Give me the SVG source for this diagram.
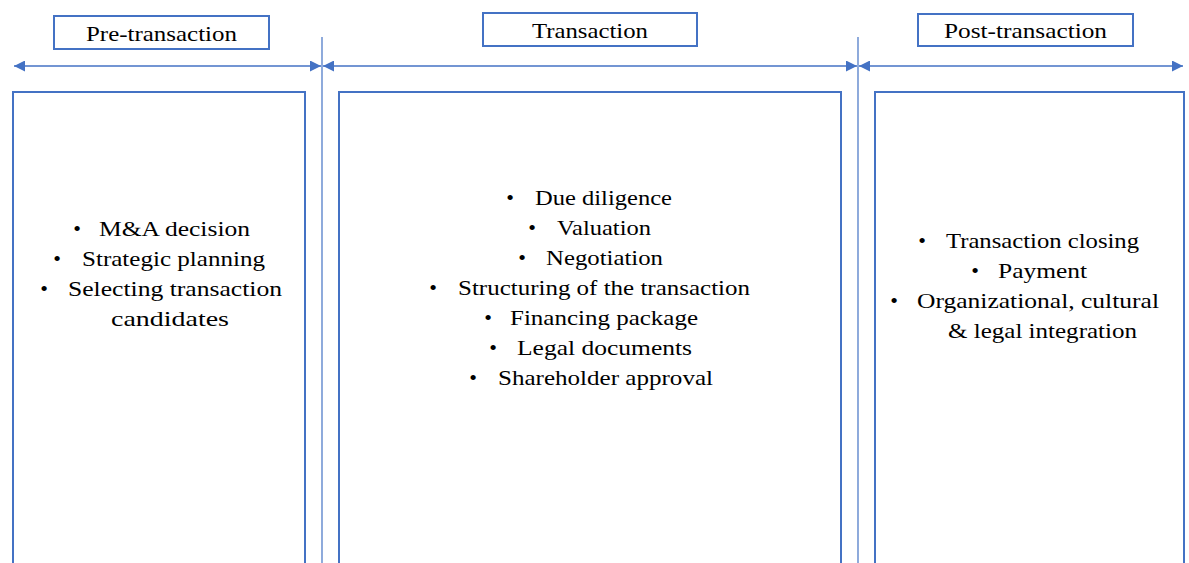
<svg xmlns="http://www.w3.org/2000/svg" width="1189" height="563" viewBox="0 0 1189 563" font-family="'Liberation Serif', 'Times New Roman', serif">
<style>
.box{fill:none;stroke:#4472C4;stroke-width:2}
.div{stroke:#4472C4;stroke-width:1.2}
.arr{stroke:#4472C4;stroke-width:1.4;fill:none}
.t{font-family:'Liberation Serif','Times New Roman',serif;font-size:22px;fill:#000}
.b{text-anchor:middle}
</style>
<defs>
<marker id="ah" viewBox="0 0 10 10" refX="10" refY="5" markerWidth="11" markerHeight="11" markerUnits="userSpaceOnUse" orient="auto-start-reverse">
<path d="M0,0 L10,5 L0,10 Z" fill="#4472C4"/>
</marker>
</defs>
<rect width="1189" height="563" fill="#fff"/>
<g id="connectors">
<line class="div" x1="322" y1="37" x2="322" y2="563"/>
<line class="div" x1="858" y1="37" x2="858" y2="563"/>
<line class="arr" x1="14" y1="66" x2="321" y2="66" marker-start="url(#ah)" marker-end="url(#ah)"/>
<line class="arr" x1="323" y1="66" x2="857" y2="66" marker-start="url(#ah)" marker-end="url(#ah)"/>
<line class="arr" x1="859" y1="66" x2="1183" y2="66" marker-start="url(#ah)" marker-end="url(#ah)"/>
</g>
<g id="hdr-pre">
<rect class="box" x="54" y="16" width="215" height="33"/>
<text class="t" x="86" y="41" textLength="151" lengthAdjust="spacingAndGlyphs">Pre-transaction</text>
</g>
<g id="hdr-trans">
<rect class="box" x="483" y="13" width="214" height="33"/>
<text class="t" x="532" y="38" textLength="116" lengthAdjust="spacingAndGlyphs">Transaction</text>
</g>
<g id="hdr-post">
<rect class="box" x="918" y="14" width="215" height="32"/>
<text class="t" x="944" y="38" textLength="163" lengthAdjust="spacingAndGlyphs">Post-transaction</text>
</g>
<g id="box-pre">
<path class="box" d="M13,570 V92 H305 V570"/>
<text class="t b" x="77" y="236">•</text><text class="t" x="99" y="236" textLength="151" lengthAdjust="spacingAndGlyphs">M&amp;A decision</text>
<text class="t b" x="57" y="266">•</text><text class="t" x="82" y="266" textLength="183" lengthAdjust="spacingAndGlyphs">Strategic planning</text>
<text class="t b" x="44" y="296">•</text><text class="t" x="68" y="296" textLength="214" lengthAdjust="spacingAndGlyphs">Selecting transaction</text>
<text class="t" x="111" y="326" textLength="118" lengthAdjust="spacingAndGlyphs">candidates</text>
</g>
<g id="box-trans">
<path class="box" d="M339,570 V92 H841 V570"/>
<text class="t b" x="510" y="205">•</text><text class="t" x="535" y="205" textLength="137" lengthAdjust="spacingAndGlyphs">Due diligence</text>
<text class="t b" x="532" y="235">•</text><text class="t" x="557" y="235" textLength="94" lengthAdjust="spacingAndGlyphs">Valuation</text>
<text class="t b" x="522" y="265">•</text><text class="t" x="546" y="265" textLength="117" lengthAdjust="spacingAndGlyphs">Negotiation</text>
<text class="t b" x="433" y="295">•</text><text class="t" x="458" y="295" textLength="292" lengthAdjust="spacingAndGlyphs">Structuring of the transaction</text>
<text class="t b" x="488" y="325">•</text><text class="t" x="510" y="325" textLength="188" lengthAdjust="spacingAndGlyphs">Financing package</text>
<text class="t b" x="493" y="355">•</text><text class="t" x="517" y="355" textLength="175" lengthAdjust="spacingAndGlyphs">Legal documents</text>
<text class="t b" x="473" y="385">•</text><text class="t" x="498" y="385" textLength="215" lengthAdjust="spacingAndGlyphs">Shareholder approval</text>
</g>
<g id="box-post">
<path class="box" d="M875,570 V92 H1184 V570"/>
<text class="t b" x="922" y="248">•</text><text class="t" x="946" y="248" textLength="193" lengthAdjust="spacingAndGlyphs">Transaction closing</text>
<text class="t b" x="975" y="278">•</text><text class="t" x="998" y="278" textLength="89" lengthAdjust="spacingAndGlyphs">Payment</text>
<text class="t b" x="894" y="308">•</text><text class="t" x="917" y="308" textLength="242" lengthAdjust="spacingAndGlyphs">Organizational, cultural</text>
<text class="t" x="948" y="338" textLength="189" lengthAdjust="spacingAndGlyphs">&amp; legal integration</text>
</g>
</svg>
